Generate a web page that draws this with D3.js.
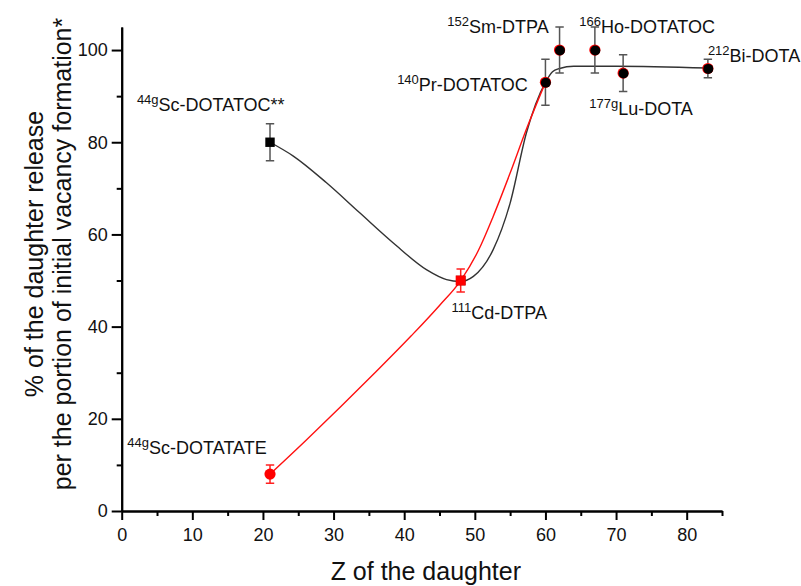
<!DOCTYPE html>
<html>
<head>
<meta charset="utf-8">
<script src="https://cdn.jsdelivr.net/npm/d3@7"></script>
<style>
  html, body { margin: 0; padding: 0; background: #fff; }
  svg { display: block; font-family: "Liberation Sans", Arial, sans-serif; }
</style>
</head>
<body>
<svg id="chart" width="801" height="586"></svg>
<script>
// Measured points (Z of the daughter nuclide, % release, error)
const zBlack = [21, 48, 60, 62, 67, 71, 83];
const releaseBlack = [80, 50, 93, 100, 100, 95, 96];
const errBlack = [4, null, 5, 5, 5, 4, 2];

const zRed = [21, 48, 60, 62, 67, 71, 83];
const releaseRed = [8, 50, 93, 100, 100, 95, 96];
const errRed = [2, 2.5, null, null, null, null, null];

// Fitted trend lines
const fitBlackZ = [21, 24.3, 29, 33.7, 38.5, 43.2, 46, 47.9, 49.8, 52.6, 55, 57.3, 60, 61, 62, 64, 70, 83];
const fitBlackV = [80, 77, 71.2, 64.7, 58.1, 52.3, 50.2, 49.8, 50.9, 56.7, 66.8, 82, 93, 95.3, 96.0, 96.5, 96.5, 96.1];
const fitRedZ = [21, 26, 31, 36, 41, 45, 48, 50.5, 52.6, 55, 57.3, 60];
const fitRedV = [8, 15.2, 22.6, 30.2, 38.0, 44.6, 50, 56.5, 63.9, 73.3, 82.8, 93];

// Point labels: isotope mass (superscript), compound, anchor position
const labelSup = ["44g", "44g", "111", "140", "152", "166", "177g", "212"];
const labelMain = ["Sc-DOTATOC**", "Sc-DOTATATE", "Cd-DTPA", "Pr-DOTATOC", "Sm-DTPA", "Ho-DOTATOC", "Lu-DOTA", "Bi-DOTA"];
const labelZ = [2.15, 0.8, 46.7, 39.0, 46.1, 64.8, 66.2, 83.0];
const labelV = [86.8, 12.4, 41.7, 91.1, 103.6, 103.8, 85.9, 97.3];

// Axis ticks
const xTicks = [0, 10, 20, 30, 40, 50, 60, 70, 80];
const xMinor = [5, 15, 25, 35, 45, 55, 65, 75, 85];
const yTicks = [0, 20, 40, 60, 80, 100];
const yMinor = [10, 30, 50, 70, 90];

const svg = d3.select("#chart");
const margin = { left: 121.7, right: 79, top: 27, bottom: 75 };
const W = 801, H = 586;

const x = d3.scaleLinear().domain([0, 85]).range([margin.left, W - margin.right]);
const y = d3.scaleLinear().domain([0, 105]).range([H - margin.bottom, margin.top]);

// Axes
function styleAxis(g) {
  g.selectAll("path.domain").attr("stroke", "#000").attr("stroke-width", 2);
  g.selectAll(".tick line").attr("stroke", "#000").attr("stroke-width", 2);
  g.selectAll(".tick text").attr("font-size", 18).attr("fill", "#111")
    .attr("font-family", "Liberation Sans, Arial, sans-serif");
}

const gx = svg.append("g").attr("transform", `translate(0,${y(0)})`);
gx.call(d3.axisBottom(x).tickValues(xMinor).tickSize(5).tickSizeOuter(0).tickFormat(""));
const gx2 = svg.append("g").attr("transform", `translate(0,${y(0)})`)
  .call(d3.axisBottom(x).tickValues(xTicks).tickSize(9).tickSizeOuter(0).tickPadding(8));
styleAxis(gx); styleAxis(gx2);

const gy = svg.append("g").attr("transform", `translate(${x(0)},0)`);
gy.call(d3.axisLeft(y).tickValues(yMinor).tickSize(5).tickSizeOuter(0).tickFormat(""));
const gy2 = svg.append("g").attr("transform", `translate(${x(0)},0)`)
  .call(d3.axisLeft(y).tickValues(yTicks).tickSize(10).tickSizeOuter(0).tickPadding(4));
styleAxis(gy); styleAxis(gy2);

// Axis titles
svg.append("text")
  .attr("x", (x(0) + x(85)) / 2 + 4).attr("y", 580)
  .attr("text-anchor", "middle").attr("font-size", 25).attr("fill", "#111")
  .text("Z of the daughter");

const yTitle = svg.append("text")
  .attr("transform", `translate(43,${(y(0) + y(105)) / 2 - 15}) rotate(-90)`)
  .attr("text-anchor", "middle").attr("font-size", 25).attr("fill", "#111");
yTitle.append("tspan").attr("x", 0).attr("dy", 0).text("% of the daughter release");
yTitle.append("tspan").attr("x", 0).attr("dy", 28).text("per the portion of initial vacancy formation*");

// Fit curves
const line = d3.line().x(d => x(d[0])).y(d => y(d[1])).curve(d3.curveMonotoneX);
svg.append("path")
  .datum(d3.zip(fitBlackZ, fitBlackV))
  .attr("d", line).attr("fill", "none").attr("stroke", "#333").attr("stroke-width", 1.4);
svg.append("path")
  .datum(d3.zip(fitRedZ, fitRedV))
  .attr("d", line).attr("fill", "none").attr("stroke", "#ff1010").attr("stroke-width", 1.4);

// Error bars
function errorBars(zs, vs, es, color) {
  const data = d3.zip(zs, vs, es).filter(d => d[2] != null);
  const g = svg.append("g").attr("stroke", color).attr("stroke-width", 1.5).attr("fill", "none");
  g.selectAll("path").data(data).join("path")
    .attr("d", d => {
      const cx = x(d[0]), t = y(d[1] + d[2]), b = y(d[1] - d[2]), c = 4.2;
      return `M${cx - c},${t}H${cx + c}M${cx},${t}V${b}M${cx - c},${b}H${cx + c}`;
    });
}
errorBars(zBlack, releaseBlack, errBlack, "#555");
errorBars(zRed, releaseRed, errRed, "#ff2020");

// Markers: red series circles except the Cd point, black series squares at Z<50, circles above
const blackPts = d3.zip(zBlack, releaseBlack);
const redPts = d3.zip(zRed, releaseRed);

svg.append("g").selectAll("rect").data(blackPts.filter(d => d[0] < 50)).join("rect")
  .attr("x", d => x(d[0]) - 4.7).attr("y", d => y(d[1]) - 4.7)
  .attr("width", 9.4).attr("height", 9.4).attr("fill", "#000");

svg.append("g").selectAll("circle").data(redPts.filter(d => d[0] !== 48)).join("circle")
  .attr("cx", d => x(d[0])).attr("cy", d => y(d[1])).attr("r", 5.6).attr("fill", "#ff0000");
svg.append("g").selectAll("rect").data(redPts.filter(d => d[0] === 48)).join("rect")
  .attr("x", d => x(d[0]) - 5).attr("y", d => y(d[1]) - 5)
  .attr("width", 10).attr("height", 10).attr("fill", "#ff0000");

svg.append("g").selectAll("circle").data(blackPts.filter(d => d[0] >= 50)).join("circle")
  .attr("cx", d => x(d[0]) + 0.4).attr("cy", d => y(d[1]) + 0.4).attr("r", 5).attr("fill", "#000");

// Point labels
const labels = svg.append("g").attr("fill", "#111");
labelMain.forEach((txt, i) => {
  const t = labels.append("text")
    .attr("x", x(labelZ[i])).attr("y", y(labelV[i])).attr("font-size", 18);
  t.append("tspan").attr("font-size", 13).attr("dy", -7).text(labelSup[i]);
  t.append("tspan").attr("dy", 7).text(txt);
});
</script>
</body>
</html>
